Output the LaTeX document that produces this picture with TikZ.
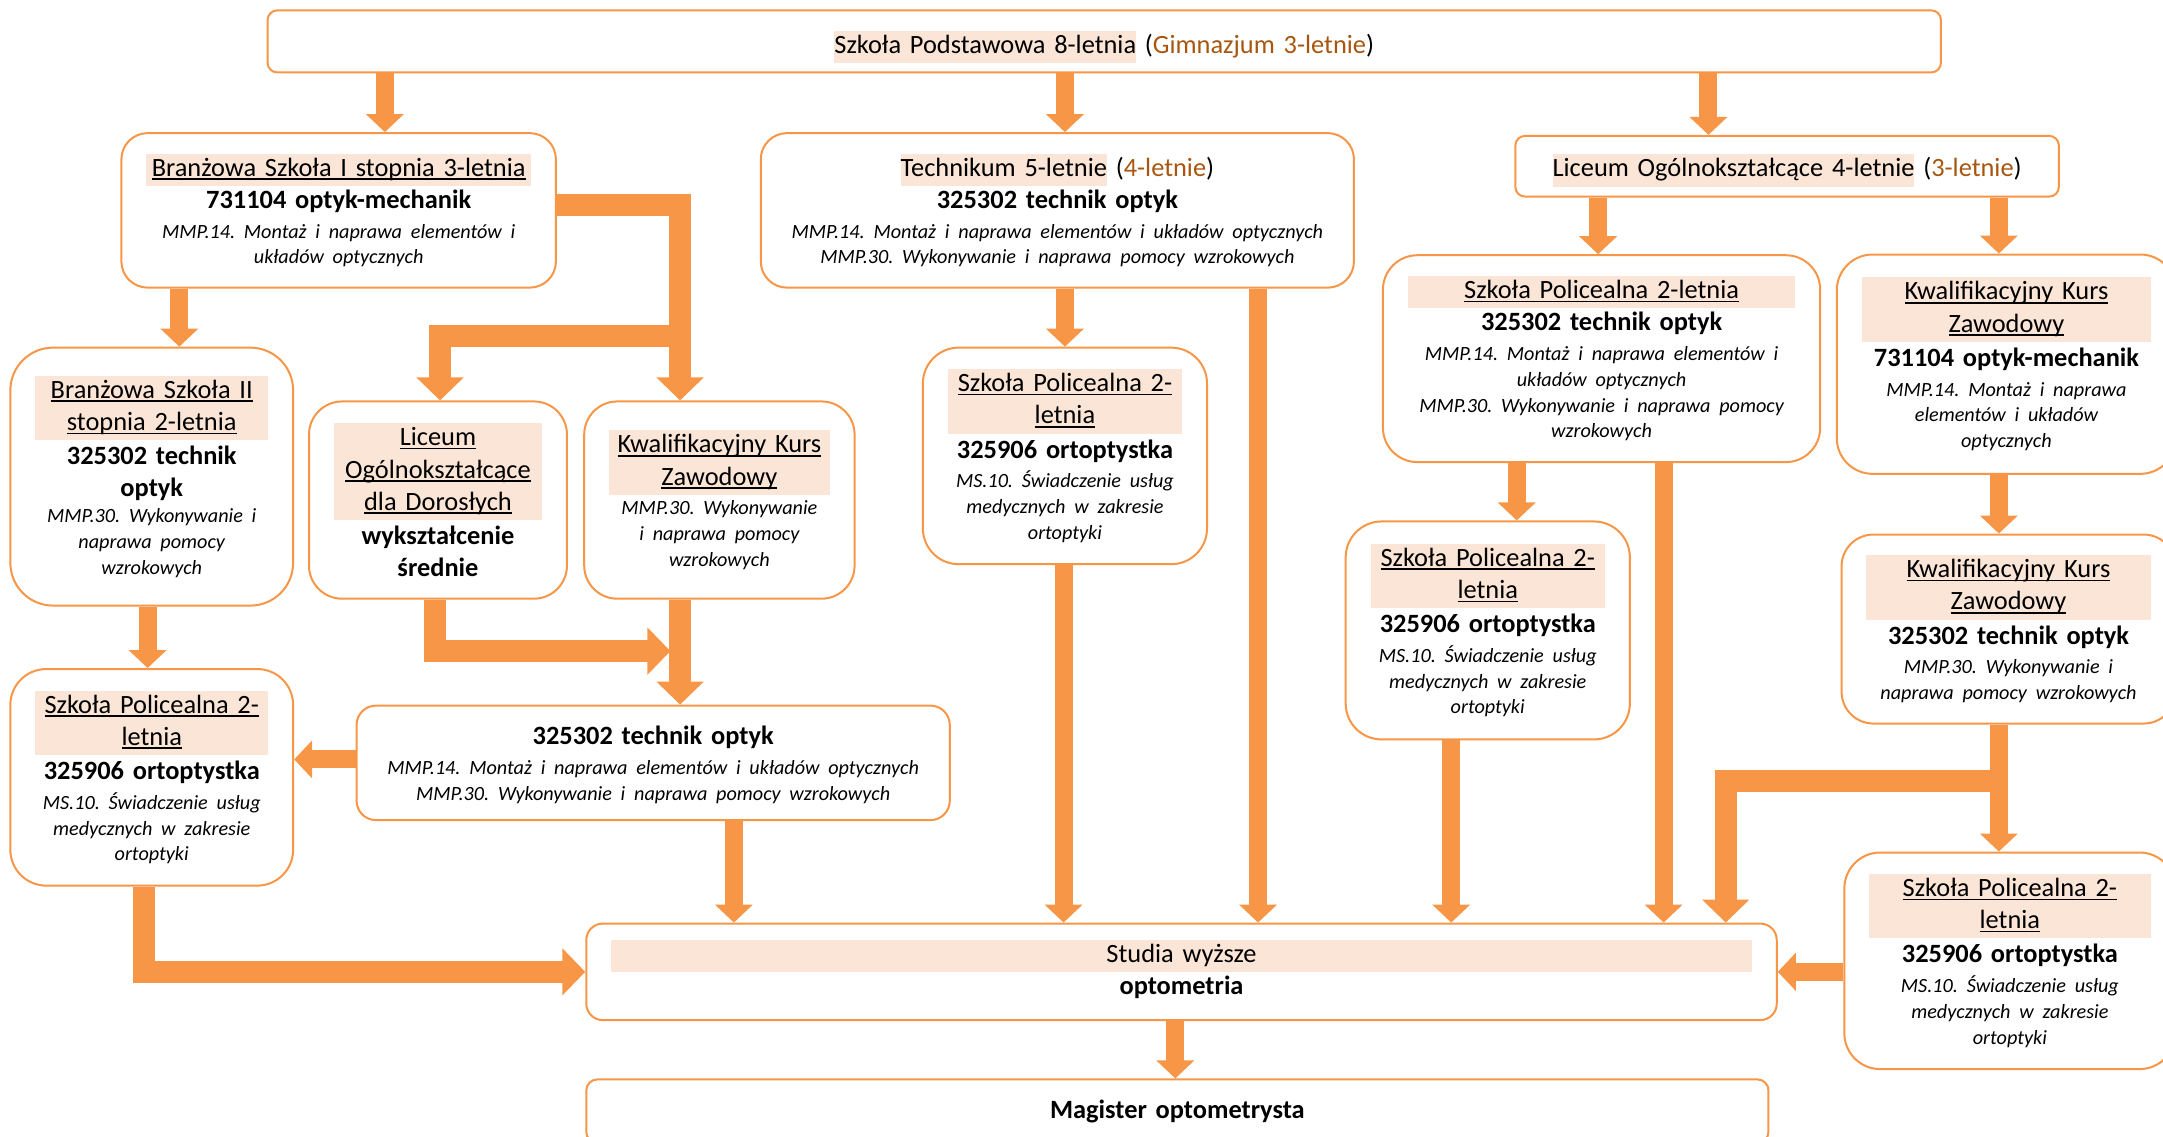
\documentclass[tikz,border=0pt]{standalone}
\usepackage{fontspec}
\setmainfont{Carlito}
\usetikzlibrary{arrows.meta}
\frenchspacing

\definecolor{orn}{HTML}{F79646}
\definecolor{pch}{HTML}{FBE5D6}
\definecolor{brn}{HTML}{A8560F}

% underline, highlight and heading band
\newcommand\uln[1]{\strut\setbox0\hbox{#1}\rlap{\rule[-1.8pt]{\wd0}{0.75pt}}\box0}
\newcommand\hl[1]{{\setlength\fboxsep{0pt}\colorbox{pch}{\strut#1}}}
\newcommand\hd[1]{{\setlength\fboxsep{0pt}\colorbox{pch}{\parbox[t]{\linewidth}{\centering#1}}}\par}
\newcommand\sm{\fontsize{10.1}{12.9}\selectfont\itshape\strut}

\begin{document}
\begin{tikzpicture}[x=0.69pt,y=-0.69pt,
    bx/.code n args={3}{\pgfmathsetlengthmacro\bxw{(#1-36)*0.69pt}%
      \pgfkeysalso{minimum width=#1*0.69pt, minimum height=#2*0.69pt,
        rounded corners=#3*0.69pt, text width/.expanded=\bxw}},
    box/.style={draw=orn, line width=1pt, fill=white, align=center,
      inner sep=0pt, font=\fontsize{13.2}{16.1}\selectfont},
    arr/.style={draw=orn, line width=9pt, -{Triangle[length=9pt,width=18.5pt]}},
    tarr/.style={draw=orn, line width=11pt, -{Triangle[length=11.5pt,width=23pt]}}]
  \useasboundingbox (0,0) rectangle (1568,824);

  % first row
  \node[box, bx={1213}{45}{7}, text height=14pt, text depth=1.9pt] (sp) at (800.5,30)
    {\hl{Szkoła Podstawowa 8-letnia} (\textcolor{brn}{Gimnazjum 3-letnie})};
  \node[box, bx={315}{112}{19}] (bs1) at (245.5,152.5)
    {\hd{\uln{Branżowa Szkoła I stopnia 3-letnia}}
     {\bfseries\strut 731104 optyk-mechanik\par}
     {\sm MMP.14. Montaż i naprawa elementów i\\ układów optycznych\par}};
  \node[box, bx={430}{112}{19}, text width=280pt] (tech) at (766.5,152.5)
    {\hl{Technikum 5-letnie} (\textcolor{brn}{4-letnie})\par
     {\bfseries\strut 325302 technik optyk\par}
     {\sm MMP.14. Montaż i naprawa elementów i układów optycznych\\
      MMP.30. Wykonywanie i naprawa pomocy wzrokowych\par}};
  \node[box, bx={394}{44}{7}, text height=13.2pt, text depth=2.5pt] (lo) at (1295.5,120.5)
    {\hl{Liceum Ogólnokształcące 4-letnie} (\textcolor{brn}{3-letnie})};

  % second row
  \node[box, bx={205}{187}{31}] (bs2) at (110,345.5)
    {\hd{\uln{Branżowa Szkoła II}\\\uln{stopnia 2-letnia}}
     {\bfseries\strut 325302 technik\\ optyk\par}
     {\sm MMP.30. Wykonywanie i\\ naprawa pomocy\\ wzrokowych\par}};
  \node[box, bx={187}{143}{24}] (lod) at (317.5,362.5)
    {\hd{\uln{Liceum}\\\uln{Ogólnokształcące}\\\uln{dla Dorosłych}}
     {\bfseries\strut wykształcenie\\ średnie\par}};
  \node[box, bx={196}{143}{24}] (kkz1) at (521.5,362.5)
    {\hd{\uln{Kwalifikacyjny Kurs}\\\uln{Zawodowy}}
     {\sm MMP.30. Wykonywanie\\ i naprawa pomocy\\ wzrokowych\par}};
  \node[box, bx={206}{157}{26}] (spo1) at (772,330.5)
    {\hd{\uln{Szkoła Policealna 2-}\\\uln{letnia}}
     {\bfseries\strut 325906 ortoptystka\par}
     {\sm MS.10. Świadczenie usług\\ medycznych w zakresie\\ ortoptyki\par}};
  \node[box, bx={317}{150}{25}] (spt) at (1161,260)
    {\hd{\uln{Szkoła Policealna 2-letnia}}
     {\bfseries\strut 325302 technik optyk\par}
     {\sm MMP.14. Montaż i naprawa elementów i\\ układów optycznych\\
      MMP.30. Wykonywanie i naprawa pomocy\\ wzrokowych\par}};
  \node[box, bx={246}{159}{26}] (kkz2) at (1454.5,264)
    {\hd{\uln{Kwalifikacyjny Kurs}\\\uln{Zawodowy}}
     {\bfseries\strut 731104 optyk-mechanik\par}
     {\sm MMP.14. Montaż i naprawa\\ elementów i układów\\ optycznych\par}};

  % third row
  \node[box, bx={206}{158}{26}] (spo2) at (1078.5,457)
    {\hd{\uln{Szkoła Policealna 2-}\\\uln{letnia}}
     {\bfseries\strut 325906 ortoptystka\par}
     {\sm MS.10. Świadczenie usług\\ medycznych w zakresie\\ ortoptyki\par}};
  \node[box, bx={242}{137}{23}] (kkz3) at (1456,456)
    {\hd{\uln{Kwalifikacyjny Kurs}\\\uln{Zawodowy}}
     {\bfseries\strut 325302 technik optyk\par}
     {\sm MMP.30. Wykonywanie i\\ naprawa pomocy wzrokowych\par}};
  \node[box, bx={205}{157}{26}] (spo3) at (110,563.5)
    {\hd{\uln{Szkoła Policealna 2-}\\\uln{letnia}}
     {\bfseries\strut 325906 ortoptystka\par}
     {\sm MS.10. Świadczenie usług\\ medycznych w zakresie\\ ortoptyki\par}};
  \node[box, bx={430}{83}{14}, text width=280pt] (tmid) at (473.5,553)
    {{\bfseries\strut 325302 technik optyk\par}
     {\sm MMP.14. Montaż i naprawa elementów i układów optycznych\\
      MMP.30. Wykonywanie i naprawa pomocy wzrokowych\par}};
  \node[box, bx={240}{157}{26}] (spo4) at (1457,696.5)
    {\hd{\uln{Szkoła Policealna 2-}\\\uln{letnia}}
     {\bfseries\strut 325906 ortoptystka\par}
     {\sm MS.10. Świadczenie usług\\ medycznych w zakresie\\ ortoptyki\par}};

  % bottom
  \node[box, bx={863}{70}{12}] (studia) at (856.5,704.5)
    {\hd{\strut Studia wyższe}
     {\bfseries\strut optometria\par}};
  \node[box, bx={857}{46}{8}] (mag) at (853.5,805.5)
    {{\bfseries Magister optometrysta}};

  \coordinate (j1) at (493,243.5);
  \coordinate (j2) at (1449,566.5);
  \coordinate (m1) at (486,472);

  % arrows
  \draw[arr] (sp.south -| 279,0) -- (bs1.north -| 279,0);
  \draw[arr] (sp.south -| 772,0) -- (tech.north -| 772,0);
  \draw[arr] (sp.south -| 1238.5,0) -- (lo.north -| 1238.5,0);
  \draw[arr] (bs1.south -| 130,0) -- (bs2.north -| 130,0);
  \draw[tarr] (bs1.east |- 0,148.5) -| (kkz1.north -| 493,0);
  \draw[tarr] (j1) -| (lod.north -| 319,0);
  \draw[arr] (tech.south -| 772,0) -- (spo1.north -| 772,0);
  \draw[arr] (tech.south -| 912,0) -- (studia.north -| 912,0);
  \draw[arr] (spo1.south -| 771,0) -- (studia.north -| 771,0);
  \draw[arr] (lo.south -| 1158.5,0) -- (spt.north -| 1158.5,0);
  \draw[arr] (lo.south -| 1449,0) -- (kkz2.north -| 1449,0);
  \draw[arr] (spt.south -| 1099.5,0) -- (spo2.north -| 1099.5,0);
  \draw[arr] (spt.south -| 1206,0) -- (studia.north -| 1206,0);
  \draw[arr] (kkz2.south -| 1449,0) -- (kkz3.north -| 1449,0);
  \draw[arr] (kkz3.south -| 1449,0) -- (spo4.north -| 1449,0);
  \draw[tarr] (j2) -| (studia.north -| 1251,0);
  \draw[arr] (spo2.south -| 1052,0) -- (studia.north -| 1052,0);
  \draw[arr] (spo4.west |- studia.east) -- (studia.east);
  \draw[arr] (bs2.south -| 107,0) -- (spo3.north -| 107,0);
  \draw[tarr] (lod.south -| 315,0) |- (m1);
  \draw[tarr] (kkz1.south -| 493,0) -- (tmid.north -| 493,0);
  \draw[arr] (tmid.west |- 0,550.5) -- (spo3.east |- 0,550.5);
  \draw[arr] (tmid.south -| 532,0) -- (studia.north -| 532,0);
  \draw[tarr] (spo3.south -| 104.5,0) |- (studia.west);
  \draw[arr] (studia.south -| 852,0) -- (mag.north -| 852,0);
\end{tikzpicture}
\end{document}
